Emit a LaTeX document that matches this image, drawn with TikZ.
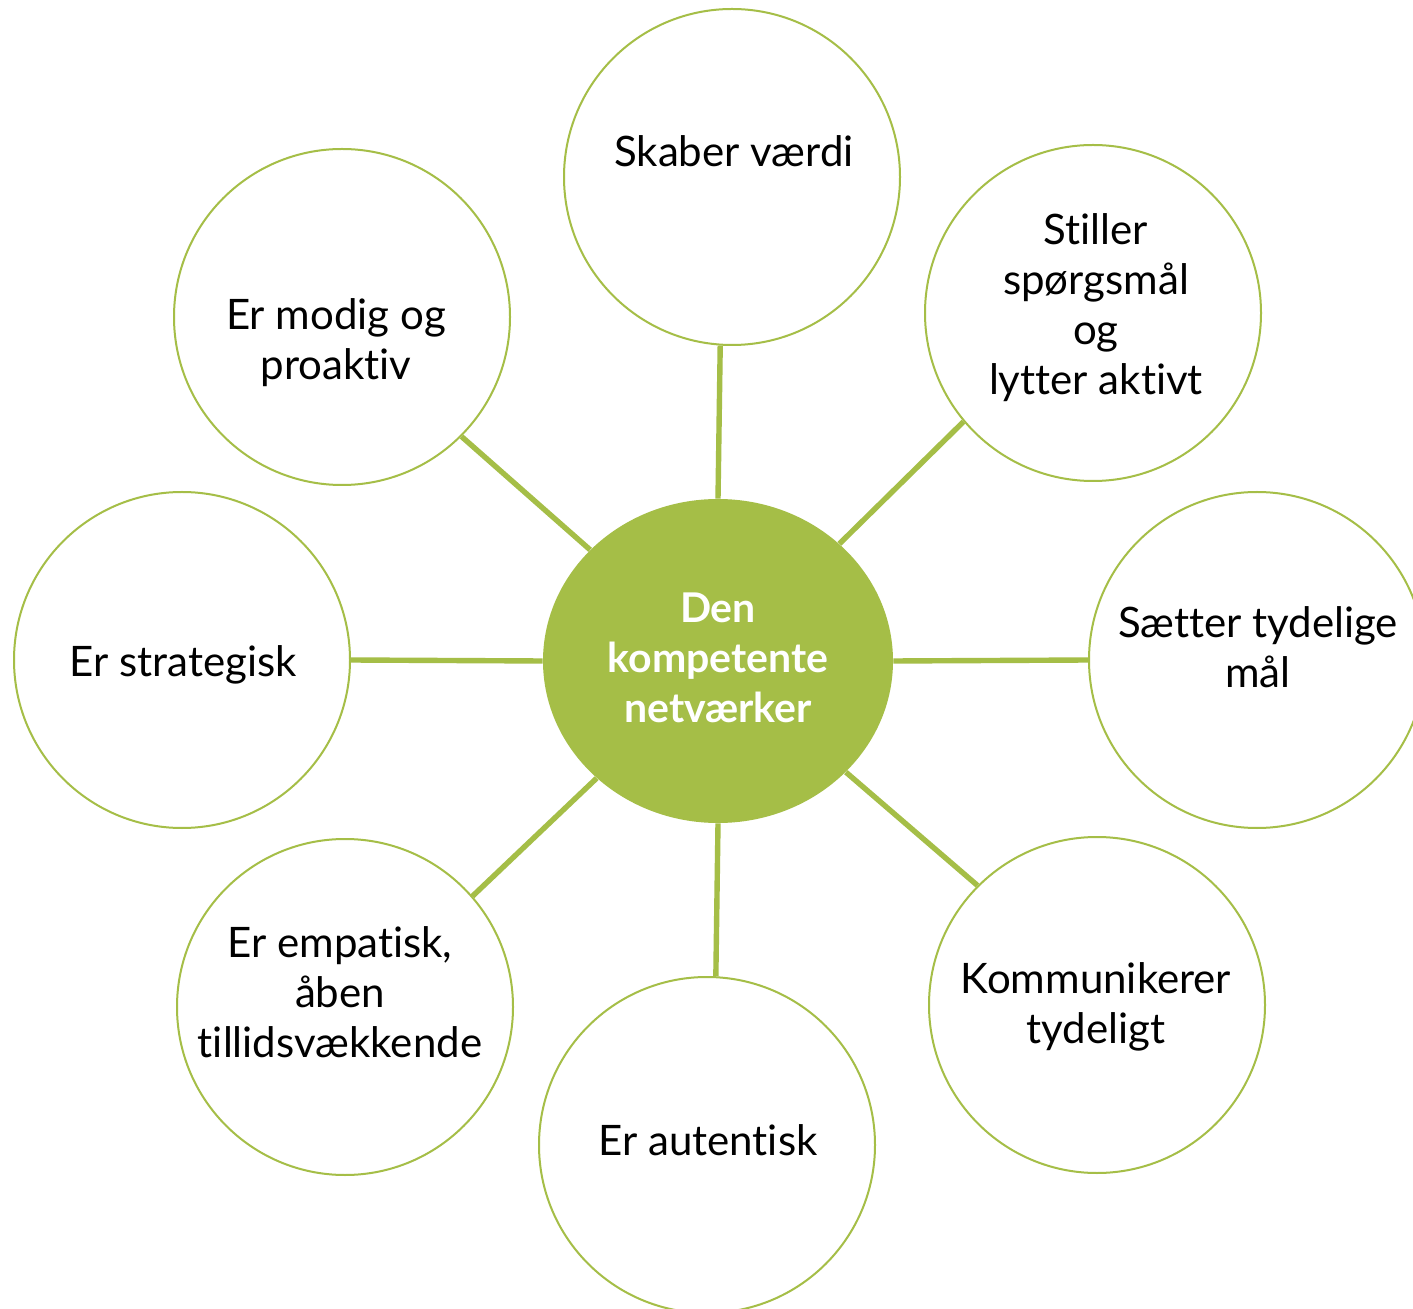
\documentclass[tikz,border=0pt]{standalone}
\usepackage{fontspec}
\setmainfont{Lato}[Ligatures=NoCommon]
\usetikzlibrary{shapes.geometric}
\definecolor{leaf}{HTML}{A5BE47}
\begin{document}
\begin{tikzpicture}[x=0.5pt,y=-0.5pt,
  hub/.style={ellipse,fill=leaf,draw=none,minimum width=175pt,minimum height=162pt,inner sep=0pt},
  petal/.style={circle,draw=leaf,line width=1pt,fill=white,minimum size=168pt,inner sep=0pt},
  spoke/.style={draw=leaf,line width=2.7pt},
  caption/.style={anchor=base,align=center,font=\fontsize{21}{25}\selectfont,text=black,inner sep=0pt},
  hubtext/.style={anchor=base,align=center,font=\fontsize{20.5}{25}\selectfont\bfseries,text=white,inner sep=0pt}]
  \clip (0,0) rectangle (1413,1309);
  \fill[white] (0,0) rectangle (1413,1309);

  % centre and surrounding circles
  \node[hub]   (c)  at (718,661)  {};
  \node[petal] (o1) at (732,177)  {};
  \node[petal] (o2) at (1093,313) {};
  \node[petal] (o3) at (1257,660) {};
  \node[petal] (o4) at (1097,1005) {};
  \node[petal] (o5) at (707,1145) {};
  \node[petal] (o6) at (345,1007) {};
  \node[petal] (o7) at (182,660)  {};
  \node[petal] (o8) at (342,317)  {};

  % spokes
  \draw[spoke] (c.90)   -- (o1.-94);
  \draw[spoke] (c.44)   -- (o2.220);
  \draw[spoke] (c.0)    -- (o3.180);
  \draw[spoke] (c.-41)  -- (o4.135);
  \draw[spoke] (c.-90)  -- (o5.87);
  \draw[spoke] (c.224)  -- (o6.41);
  \draw[spoke] (c.180)  -- (o7.0);
  \draw[spoke] (c.139)  -- (o8.-45);

  % labels (anchored at the baseline of the last line)
  \node[hubtext] (tc) at (718,723) {Den\\kompetente\\netværker};
  \node[caption] (t1) at (734,167) {Skaber værdi};
  \node[caption] (t2) at (1096,395) {Stiller\\spørgsmål\\og\\lytter aktivt};
  \node[caption] (t3) at (1258,688) {Sætter tydelige\\mål};
  \node[caption] (t4) at (1096,1043) {Kommunikerer\\tydeligt};
  \node[caption] (t5) at (708,1155) {Er autentisk};
  \node[caption] (t6) at (340,1057) {Er empatisk,\\åben\\tillidsvækkende};
  \node[caption] (t7) at (183,677) {Er strategisk};
  \node[caption] (t8) at (336,380) {Er modig og\\proaktiv};
\end{tikzpicture}
\end{document}
